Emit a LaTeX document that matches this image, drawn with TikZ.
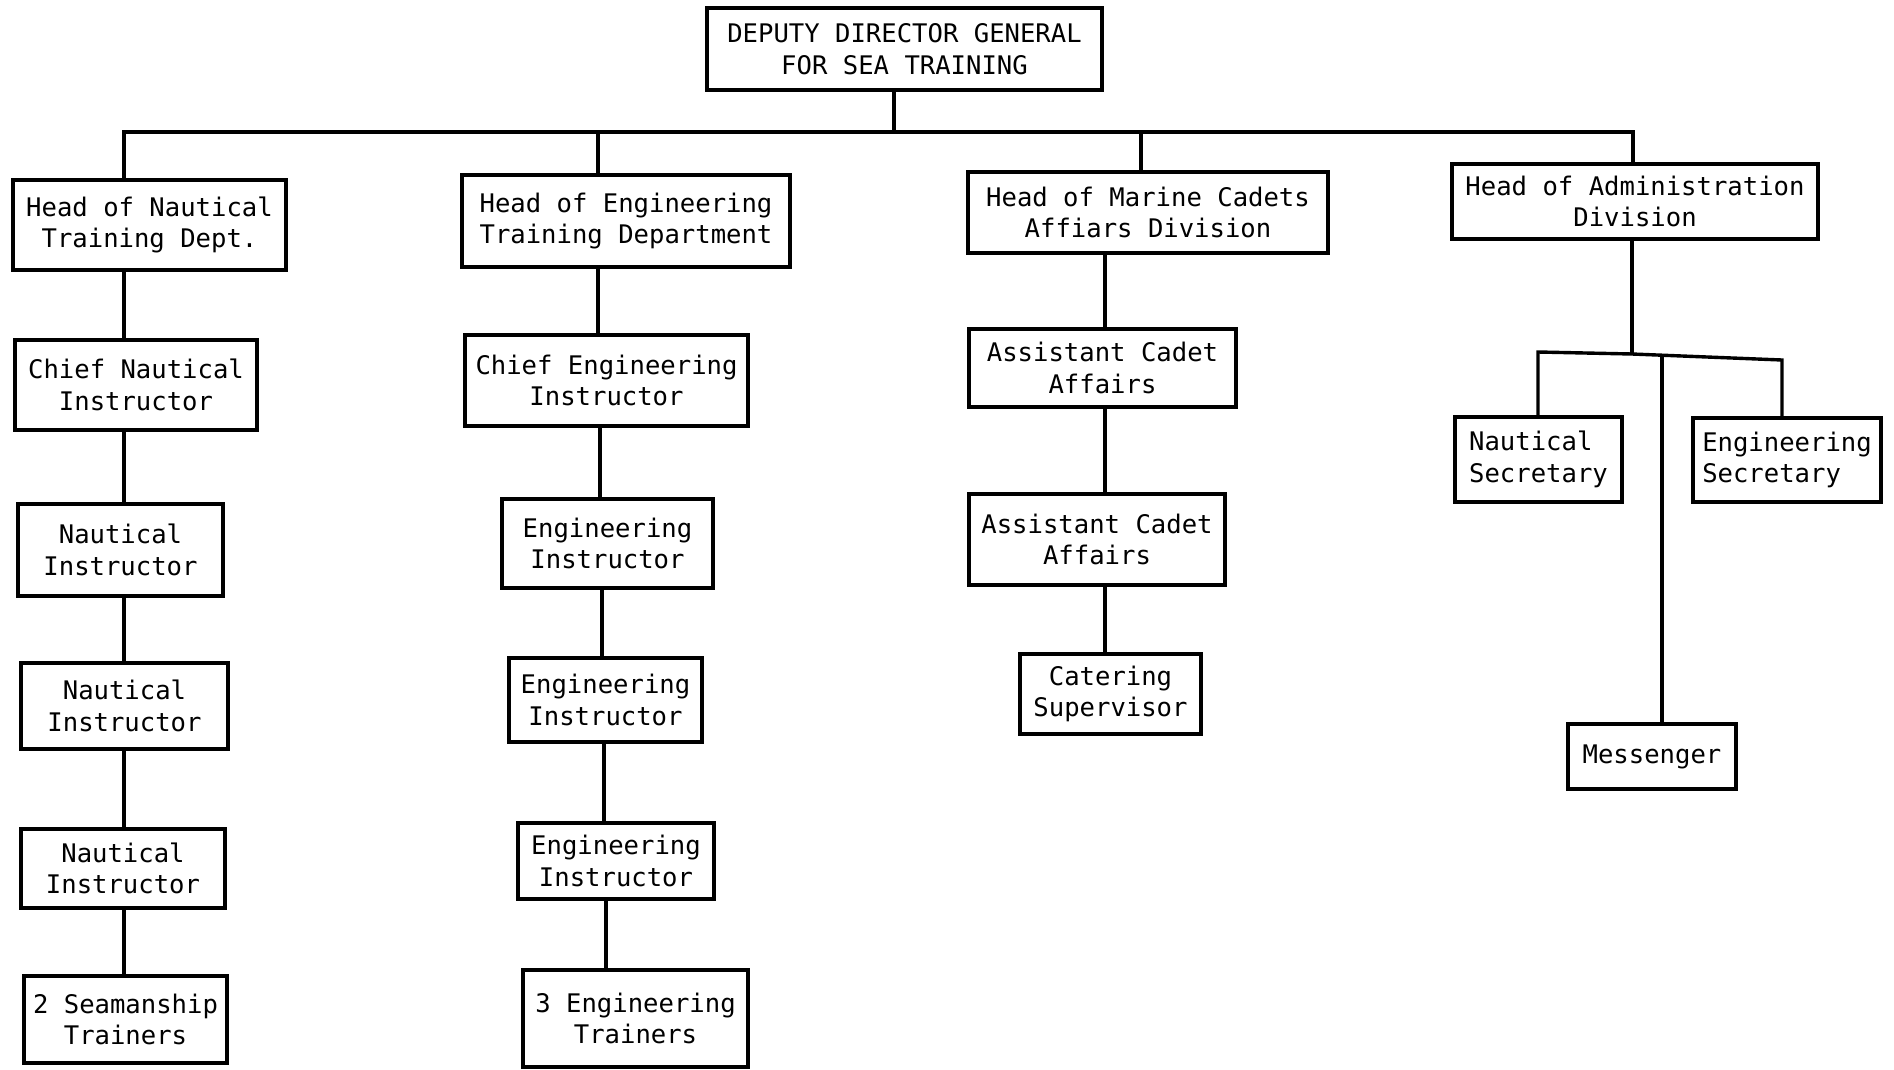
\documentclass[tikz,border=0pt]{standalone}
\usepackage{fontspec}
\setmainfont{DejaVu Sans Mono}
\begin{document}
\begin{tikzpicture}[x=0.5pt,y=-0.5pt,
  box/.style={draw,line width=1.7pt,inner sep=0pt,align=center,
    font=\fontsize{12.8}{15.8}\selectfont},
  link/.style={line width=1.7pt}]
\useasboundingbox (0,0) rectangle (1894,1070);
\newcommand\obox[7][]{%
  \pgfmathsetmacro\bw{(#5-#3)*0.5}\pgfmathsetmacro\bh{(#6-#4)*0.5}%
  \node[box,minimum width=\bw pt,minimum height=\bh pt,#1] (#2) at ({(#3+#5)/2},{(#4+#6)/2}) {#7};}
% top
\obox{ddg}{707}{8}{1102}{90}{DEPUTY DIRECTOR GENERAL\\FOR SEA TRAINING}
% column 1
\obox{hn}{13}{180}{286}{270}{Head of Nautical\\Training Dept.}
\obox{cn}{15}{340}{257}{430}{Chief Nautical\\Instructor}
\obox{nA}{18}{504}{223}{596}{Nautical\\Instructor}
\obox{nB}{21}{663}{228}{749}{Nautical\\Instructor}
\obox{nC}{21}{829}{225}{908}{Nautical\\Instructor}
\obox{st}{24}{976}{227}{1063}{2 Seamanship\\Trainers}
% column 2
\obox{he}{462}{175}{790}{267}{Head of Engineering\\Training Department}
\obox{ce}{465}{335}{748}{426}{Chief Engineering\\Instructor}
\obox{eA}{502}{499}{713}{588}{Engineering\\Instructor}
\obox{eB}{509}{658}{702}{742}{Engineering\\Instructor}
\obox{eC}{518}{823}{714}{899}{Engineering\\Instructor}
\obox{et}{523}{970}{748}{1067}{3 Engineering\\Trainers}
% column 3
\obox{hm}{968}{172}{1328}{253}{Head of Marine Cadets\\Affiars Division}
\obox{aA}{969}{329}{1236}{407}{Assistant Cadet\\Affairs}
\obox{aB}{969}{494}{1225}{585}{Assistant Cadet\\Affairs}
\obox{cs}{1020}{654}{1201}{734}{Catering\\Supervisor}
% column 4
\obox{ha}{1452}{164}{1818}{239}{Head of Administration\\Division}
\obox[align=left]{ns}{1455}{417}{1622}{502}{Nautical\\Secretary}
\obox[align=left]{es}{1693}{418}{1881}{502}{Engineering\\Secretary}
\obox{ms}{1568}{724}{1736}{789}{Messenger}
% coordinates
\coordinate (jT) at (894,132);
\coordinate (bL) at (124,132);
\coordinate (bE) at (598,132);
\coordinate (bM) at (1141,132);
\coordinate (bR) at (1633,132);
\coordinate (xA) at (1105,0);
\coordinate (jA) at (1632,354);
\coordinate (jN) at (1538,352);
\coordinate (jS) at (1782,360);
\coordinate (jG) at (1662,357);
% top bus
\draw[link] (ddg.south -| jT) -- (jT);
\draw[link] (hn.north -| bL) -- (bL) -- (bR) -- (ha.north -| bR);
\draw[link] (bE) -- (he.north -| bE);
\draw[link] (bM) -- (hm.north -| bM);
% column 1
\draw[link] (hn.south -| bL) -- (cn.north -| bL);
\draw[link] (cn.south -| bL) -- (nA.north -| bL);
\draw[link] (nA.south -| bL) -- (nB.north -| bL);
\draw[link] (nB.south -| bL) -- (nC.north -| bL);
\draw[link] (nC.south -| bL) -- (st.north -| bL);
% column 2
\draw[link] (he.south -| 598,0) -- (ce.north -| 598,0);
\draw[link] (ce.south -| 600,0) -- (eA.north -| 600,0);
\draw[link] (eA.south -| 602,0) -- (eB.north -| 602,0);
\draw[link] (eB.south -| 604,0) -- (eC.north -| 604,0);
\draw[link] (eC.south -| 606,0) -- (et.north -| 606,0);
% column 3
\draw[link] (hm.south -| xA) -- (aA.north -| xA);
\draw[link] (aA.south -| xA) -- (aB.north -| xA);
\draw[link] (aB.south -| xA) -- (cs.north -| xA);
% column 4
\draw[link] (ha.south -| jA) -- (jA);
\draw[link] (ns.north -| jN) -- (jN) -- (jA) -- (jS) -- (es.north -| jS);
\draw[link] (jG) -- (ms.north -| jG);
\end{tikzpicture}
\end{document}
